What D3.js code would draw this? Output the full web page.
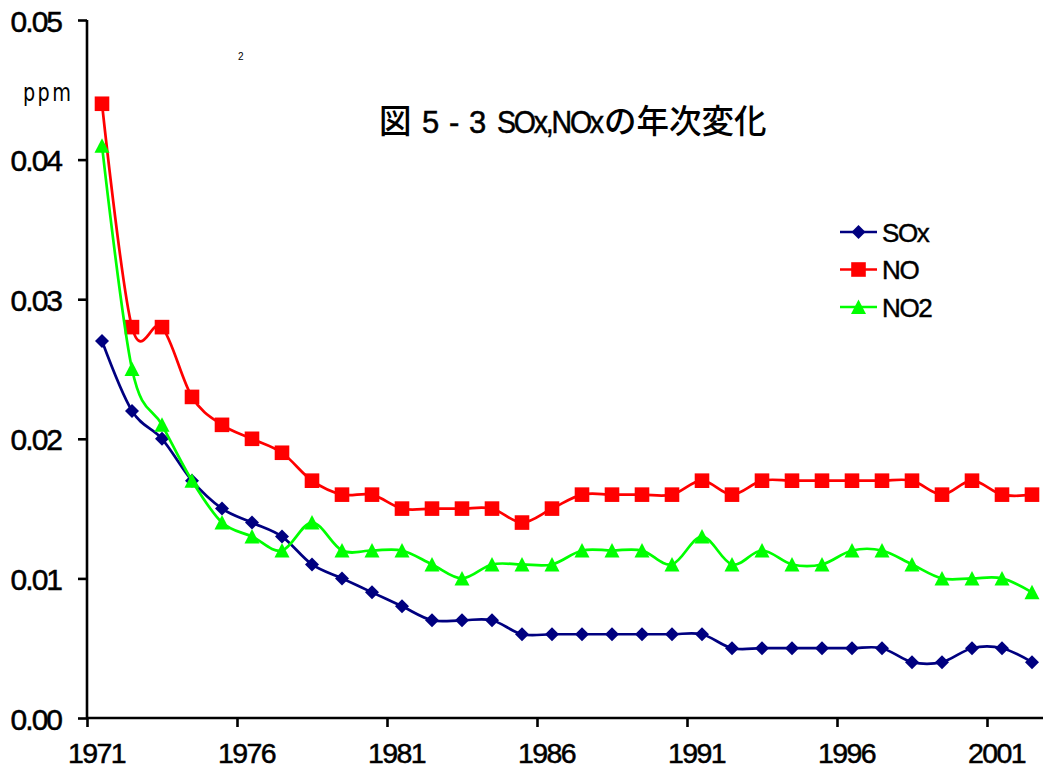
<!DOCTYPE html>
<html><head><meta charset="utf-8">
<script src="https://cdn.jsdelivr.net/npm/d3@7"></script>
<style>
html,body{margin:0;padding:0;background:#fff;}
svg{display:block;}
</style>
</head><body>
<svg id="c" width="1043" height="771"></svg>
<script>
const years = d3.range(1971, 2003);
const sox = [0.027,0.022,0.020,0.017,0.015,0.014,0.013,0.011,0.010,0.009,0.008,0.007,0.007,0.007,0.006,0.006,0.006,0.006,0.006,0.006,0.006,0.005,0.005,0.005,0.005,0.005,0.005,0.004,0.004,0.005,0.005,0.004];
const no  = [0.044,0.028,0.028,0.023,0.021,0.020,0.019,0.017,0.016,0.016,0.015,0.015,0.015,0.015,0.014,0.015,0.016,0.016,0.016,0.016,0.017,0.016,0.017,0.017,0.017,0.017,0.017,0.017,0.016,0.017,0.016,0.016];
const no2 = [0.041,0.025,0.021,0.017,0.014,0.013,0.012,0.014,0.012,0.012,0.012,0.011,0.010,0.011,0.011,0.011,0.012,0.012,0.012,0.011,0.013,0.011,0.012,0.011,0.011,0.012,0.012,0.011,0.010,0.010,0.010,0.009];
const yTicks = [0,0.01,0.02,0.03,0.04,0.05];
const xTickYears = [1971,1976,1981,1986,1991,1996,2001];
const seriesNames = ["SOx","NO","NO2"];
const seriesColors = ["#000080","#FF0000","#00FF00"];
const seriesMarkers = ["diamond","square","triangle"];
const titleParts = [["図", "cjk"], ["5", "lat"], ["-", "lat"], ["3", "lat"], ["SOx,NOx", "lat"], ["の年次変化", "cjk"]];

const svg = d3.select("#c");
const x0 = 87, y0 = 718, yTop = 20;
const x = d3.scaleLinear().domain([1971, 2003]).range([x0, x0 + 30*32]);
const xc = d => x(d) + 15;
const y = d3.scaleLinear().domain([0, 0.05]).range([y0, yTop]);
const LAT = "Liberation Sans, Arial, sans-serif";

// axes
const yAxis = d3.axisLeft(y).tickValues(yTicks).tickFormat(d3.format(".2f")).tickSize(9).tickPadding(18);
const gy = svg.append("g").attr("transform", `translate(${x0},0)`).call(yAxis);
const xAxis = d3.axisBottom(x).tickValues(xTickYears).tickFormat(d3.format("d")).tickSize(9).tickPadding(8);
const gx = svg.append("g").attr("transform", `translate(0,${y0})`).call(xAxis);
[gy, gx].forEach(g => {
  g.attr("font-size", null).attr("font-family", null);
  g.select(".domain").attr("stroke", "#000").attr("stroke-width", 2.6);
  g.selectAll(".tick line").attr("stroke", "#000").attr("stroke-width", 2.6);
  g.selectAll(".tick text").attr("font-family", LAT)
    .attr("fill", "#000").attr("stroke", "#000").attr("stroke-width", 0.5);
});
gy.select(".domain").attr("d", `M0,${y0}V${yTop}`);
gy.selectAll(".tick line").attr("x2", -9);
gy.selectAll(".tick text").style("font-size", "30px").attr("letter-spacing", "-2px")
  .attr("dy", 0).attr("y", 11).attr("x", -26);
gx.select(".domain").attr("d", `M${x0},0H1043`);
gx.selectAll(".tick text").style("font-size", "28.5px").attr("letter-spacing", "-1.6px")
  .attr("dx", 9).attr("dy", 0).attr("y", 45);

// markers
function markerPath(m) {
  if (m === "diamond") return "M0,-7L7,0L0,7L-7,0Z";
  if (m === "square") return "M-7.3,-7.3H7.3V7.3H-7.3Z";
  return "M0,-7.5L7.5,7L-7.5,7Z";
}

// series
const curve = d3.curveCardinal.tension(0);
[sox, no, no2].forEach((vals, si) => {
  const col = seriesColors[si];
  const line = d3.line().x((d,i) => xc(years[i])).y(d => y(d)).curve(curve);
  svg.append("path").attr("d", line(vals)).attr("fill","none").attr("stroke", col).attr("stroke-width", 2.7);
  const m = seriesMarkers[si];
  svg.append("g").selectAll("path").data(vals).join("path")
    .attr("transform", (d,i) => `translate(${xc(years[i])},${y(d)})`)
    .attr("d", markerPath(m))
    .attr("fill", col);
});

// legend
const lg = svg.append("g");
seriesNames.forEach((n, i) => {
  const yy = 232 + i*37.5;
  lg.append("line").attr("x1", 840).attr("x2", 877).attr("y1", yy).attr("y2", yy)
    .attr("stroke", seriesColors[i]).attr("stroke-width", 2.7);
  lg.append("path").attr("transform", `translate(858.5,${yy})`)
    .attr("d", markerPath(seriesMarkers[i])).attr("fill", seriesColors[i]);
  lg.append("text").attr("x", 882).attr("y", yy + 9.5).text(n)
    .attr("font-family", LAT).attr("font-size", 26)
    .attr("letter-spacing", "-1.4px").attr("fill", "#000").attr("stroke", "#000").attr("stroke-width", 0.45);
});

// texts
svg.append("text").attr("x", 23).attr("y", 101).text("ppm")
  .attr("font-family", "DejaVu Sans, sans-serif").attr("font-size", 24)
  .attr("letter-spacing", "3px").attr("fill", "#000")
  .attr("transform", "translate(23,101) scale(0.8,1) translate(-23,-101)");
svg.append("text").attr("x", 238).attr("y", 60).text("2")
  .attr("font-family", LAT).attr("font-size", 10).attr("fill", "#000");

// title (separate pieces)
const tPos = [379, 422, 449, 469, 497, 604];
const tg = svg.append("g");
titleParts.forEach((p, i) => {
  const t = tg.append("text").attr("y", 133).attr("fill", "#000").text(p[0]);
  if (p[1] === "cjk") {
    t.attr("x", tPos[i]).attr("font-family", "Noto Sans CJK JP, sans-serif").attr("font-size", 32.5).attr("font-weight", 500);
  } else {
    t.attr("font-family", LAT).attr("font-size", 31).attr("stroke", "#000").attr("stroke-width", 0.5);
    if (p[0].length > 1) {
      t.attr("x", 0).attr("letter-spacing", "-2.4px")
       .attr("transform", `translate(${tPos[i]},0) scale(0.92,1)`);
    } else t.attr("x", tPos[i]);
  }
});
</script>
</body></html>
